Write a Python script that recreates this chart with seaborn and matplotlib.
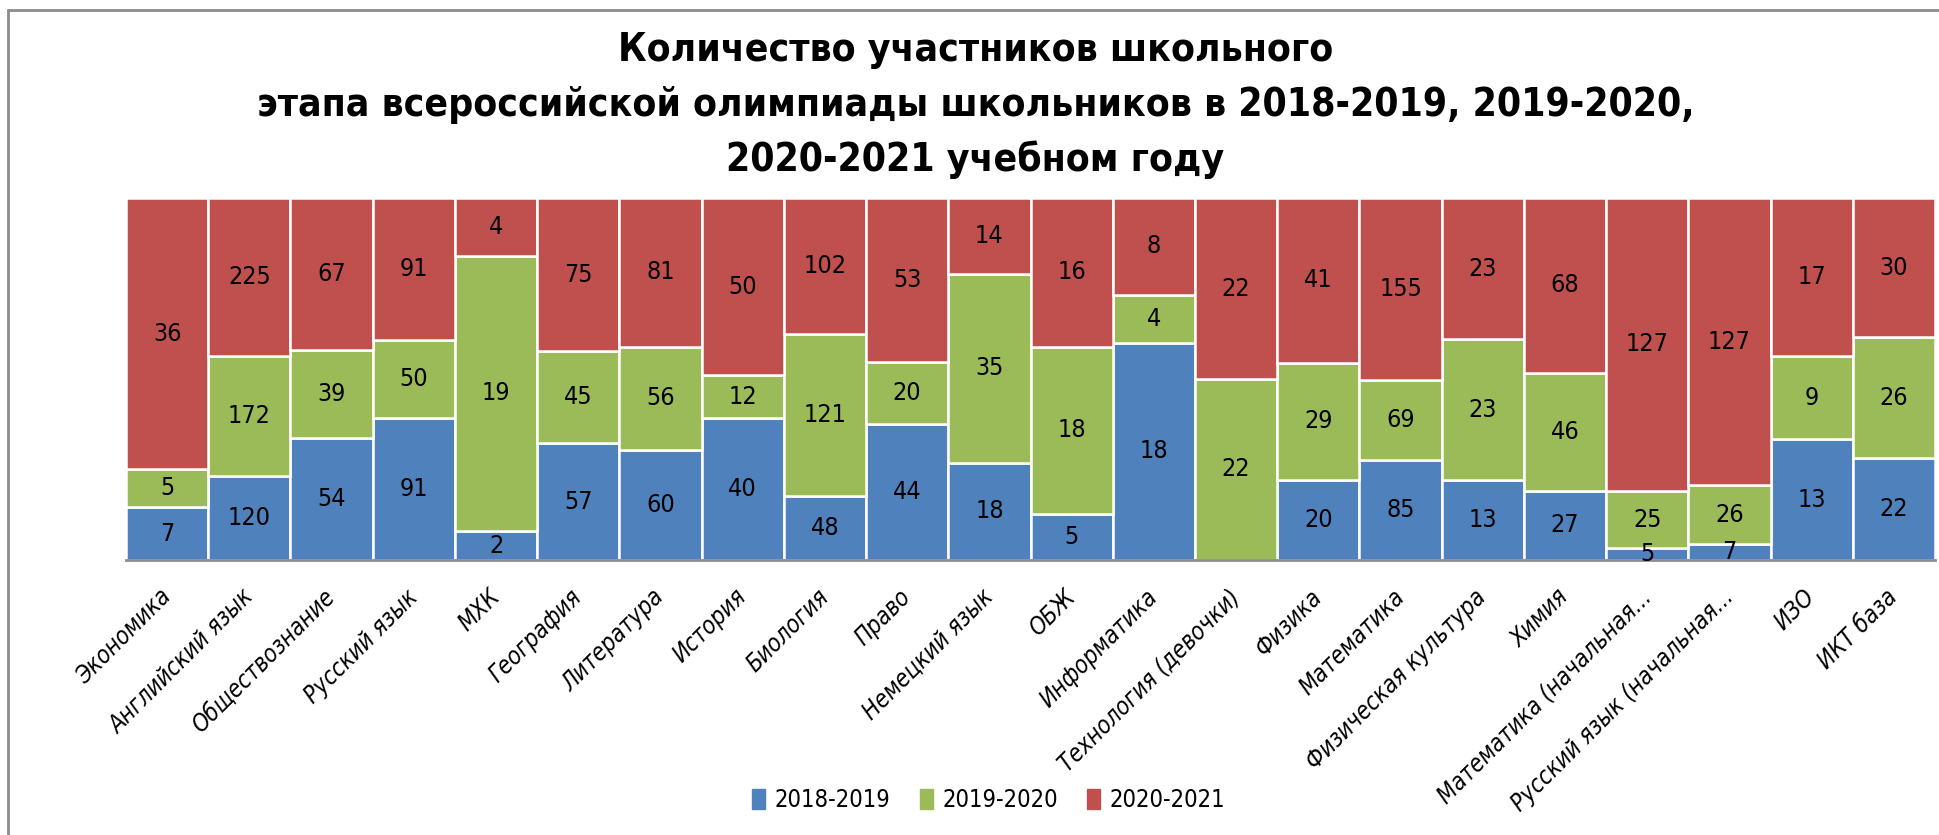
import numpy as np
import pandas as pd
import matplotlib
matplotlib.use("Agg")
import matplotlib.pyplot as plt
import seaborn as sns
from matplotlib.patches import Rectangle

categories = ["Экономика", "Английский язык", "Обществознание", "Русский язык", "МХК",
              "География", "Литература", "История", "Биология", "Право", "Немецкий язык",
              "ОБЖ", "Информатика", "Технология (девочки)", "Физика", "Математика",
              "Физическая культура", "Химия", "Математика (начальная...",
              "Русский язык (начальная...", "ИЗО", "ИКТ база"]
s2018 = [7, 120, 54, 91, 2, 57, 60, 40, 48, 44, 18, 5, 18, 0, 20, 85, 13, 27, 5, 7, 13, 22]
s2019 = [5, 172, 39, 50, 19, 45, 56, 12, 121, 20, 35, 18, 4, 22, 29, 69, 23, 46, 25, 26, 9, 26]
s2020 = [36, 225, 67, 91, 4, 75, 81, 50, 102, 53, 14, 16, 8, 22, 41, 155, 23, 68, 127, 127, 17, 30]
series_names = ["2018-2019", "2019-2020", "2020-2021"]
colors = ["#4F81BD", "#9BBB59", "#C0504D"]
title = ("Количество участников школьного\n"
         "этапа всероссийской олимпиады школьников в 2018-2019, 2019-2020,\n"
         "2020-2021 учебном году")

sns.set_style("white")
plt.rcParams['font.family'] = ['DejaVu Sans']
plt.rcParams['font.stretch'] = 'condensed'
plt.rcParams['text.color'] = 'black'
plt.rcParams['xtick.color'] = 'black'

vals = np.array([s2018, s2019, s2020], dtype=float)
tot = vals.sum(axis=0)
frac = vals / tot

fig = plt.figure(figsize=(19.39, 8.35), dpi=100)
ax = fig.add_axes([126/1939, 1 - 560/835, (1935-126)/1939, (560-198)/835])

bottom = np.zeros(len(categories))
for i, name in enumerate(series_names):
    df = pd.DataFrame({"cat": categories, "v": frac[i]})
    sns.barplot(data=df, x="cat", y="v", ax=ax, color=colors[i], bottom=bottom,
                width=1.0, edgecolor="white", linewidth=1.8, saturation=1, legend=False)
    cont = ax.containers[-1]
    labels = [str(int(v)) if v > 0 else "" for v in vals[i]]
    ax.bar_label(cont, labels=labels, label_type="center", fontsize=18, color="black")
    bottom = bottom + frac[i]

ax.set_ylim(0, 1)
ax.set_xlim(-0.5, len(categories) - 0.5)
ax.set_xlabel("")
ax.set_ylabel("")
ax.set_yticks([])
for s in ["top", "right", "left"]:
    ax.spines[s].set_visible(False)
ax.spines["bottom"].set_color("#8C8C8C")
ax.spines["bottom"].set_linewidth(2)
ax.tick_params(axis="x", length=0, pad=24)
ax.set_xticks(range(len(categories)))
ax.set_xticklabels(categories, rotation=45, ha="right", va="center",
                   rotation_mode="anchor", fontsize=17, style="italic")

handles = [Rectangle((0, 0), 1, 1, color=c) for c in colors]
fig.legend(handles, series_names, loc="center", bbox_to_anchor=(0.51, 1 - 800/835),
           ncol=3, frameon=False, fontsize=17, handlelength=0.55, handleheight=0.9,
           columnspacing=1.25, handletextpad=0.4)

fig.text(0.503, 1 - 105/835, title, ha="center", va="center", fontsize=28,
         fontweight="bold", linespacing=1.55)

# chart frame
fig.patches.append(Rectangle((8/1939, -0.1), 1.2, 1 - 10/835 + 0.1, transform=fig.transFigure,
                             fill=False, edgecolor="#8C8C8C", linewidth=2))

fig.savefig("out.png", dpi=100)
